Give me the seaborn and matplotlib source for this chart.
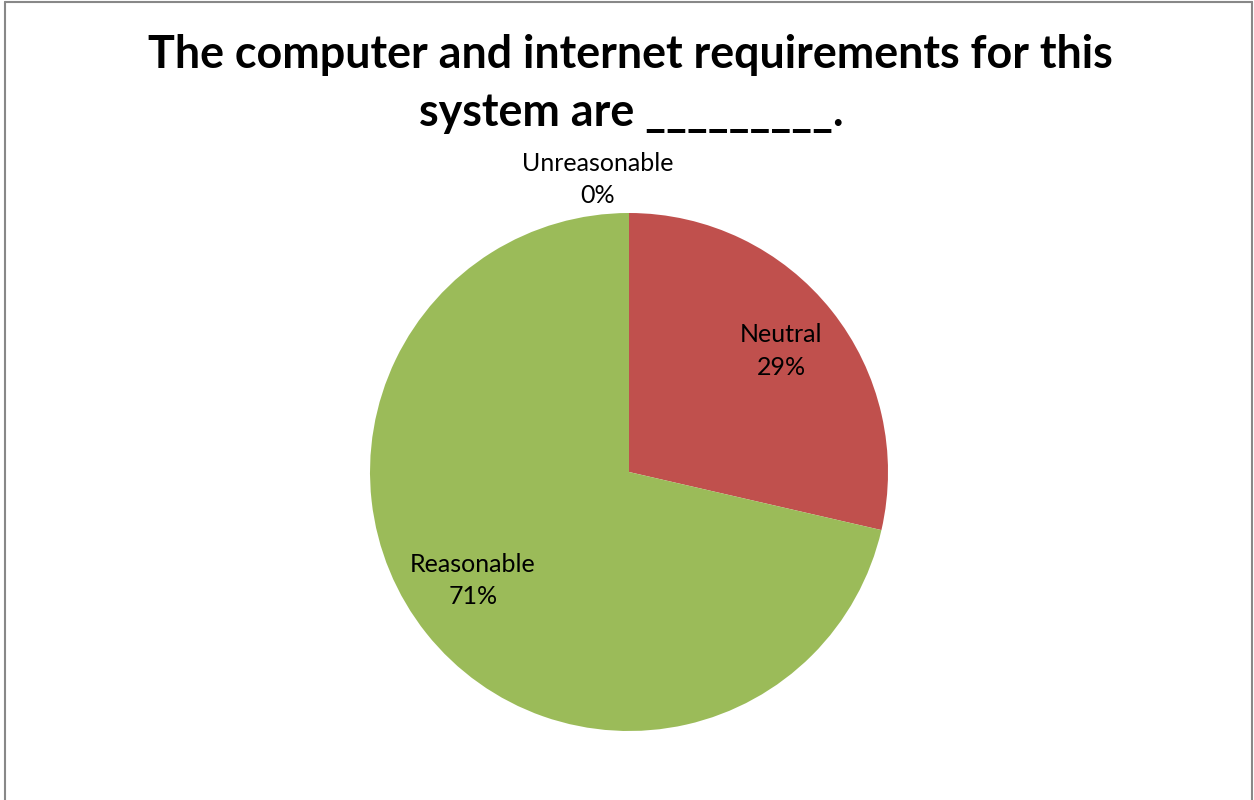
import numpy as np
import matplotlib
matplotlib.use("Agg")
import matplotlib.pyplot as plt
import seaborn as sns
from matplotlib.lines import Line2D

categories = ["Unreasonable", "Neutral", "Reasonable"]
values = [0, 28.6, 71.4]
pct_labels = ["0%", "29%", "71%"]
colors = ["#4F81BD", "#C0504D", "#9BBB59"]
title = "The computer and internet requirements for this\nsystem are _________."

sns.set_theme(style="white")
plt.rcParams['font.family'] = ['Lato', 'DejaVu Sans']

fig = plt.figure(figsize=(12.54, 8.0), dpi=100)
ax = fig.add_axes([0.5016 - 0.2066, 0.41 - 0.32375, 0.4132, 0.6475])

wedges, _ = ax.pie(values, colors=colors, startangle=90, counterclock=False,
                   wedgeprops=dict(linewidth=0))
ax.set_aspect('equal')
ax.set_xlim(-1, 1)
ax.set_ylim(-1, 1)

dists = [1.13, 0.75, 0.77]
for w, cat, p, d in zip(wedges, categories, pct_labels, dists):
    ang = np.deg2rad((w.theta1 + w.theta2) / 2)
    x, y = d * np.cos(ang), d * np.sin(ang)
    if cat == "Unreasonable":
        x -= 0.12
    elif cat == "Reasonable":
        y += 0.06
    ax.text(x, y, f"{cat}\n{p}", ha="center", va="center", fontsize=18,
            linespacing=1.5, color="black")

fig.text(0.503, 0.895, title, ha="center", va="center", fontsize=32.3,
         fontweight="bold", linespacing=1.5, color="black")

# chart border
for xs, ys in [([0.004, 0.004], [0.0, 0.9975]), ([0.004, 0.9985], [0.9975, 0.9975]),
               ([0.9985, 0.9985], [0.0, 0.9975])]:
    fig.add_artist(Line2D(xs, ys, color="#888888", linewidth=1.5, transform=fig.transFigure))

fig.savefig("out.png", dpi=100, facecolor="white")
